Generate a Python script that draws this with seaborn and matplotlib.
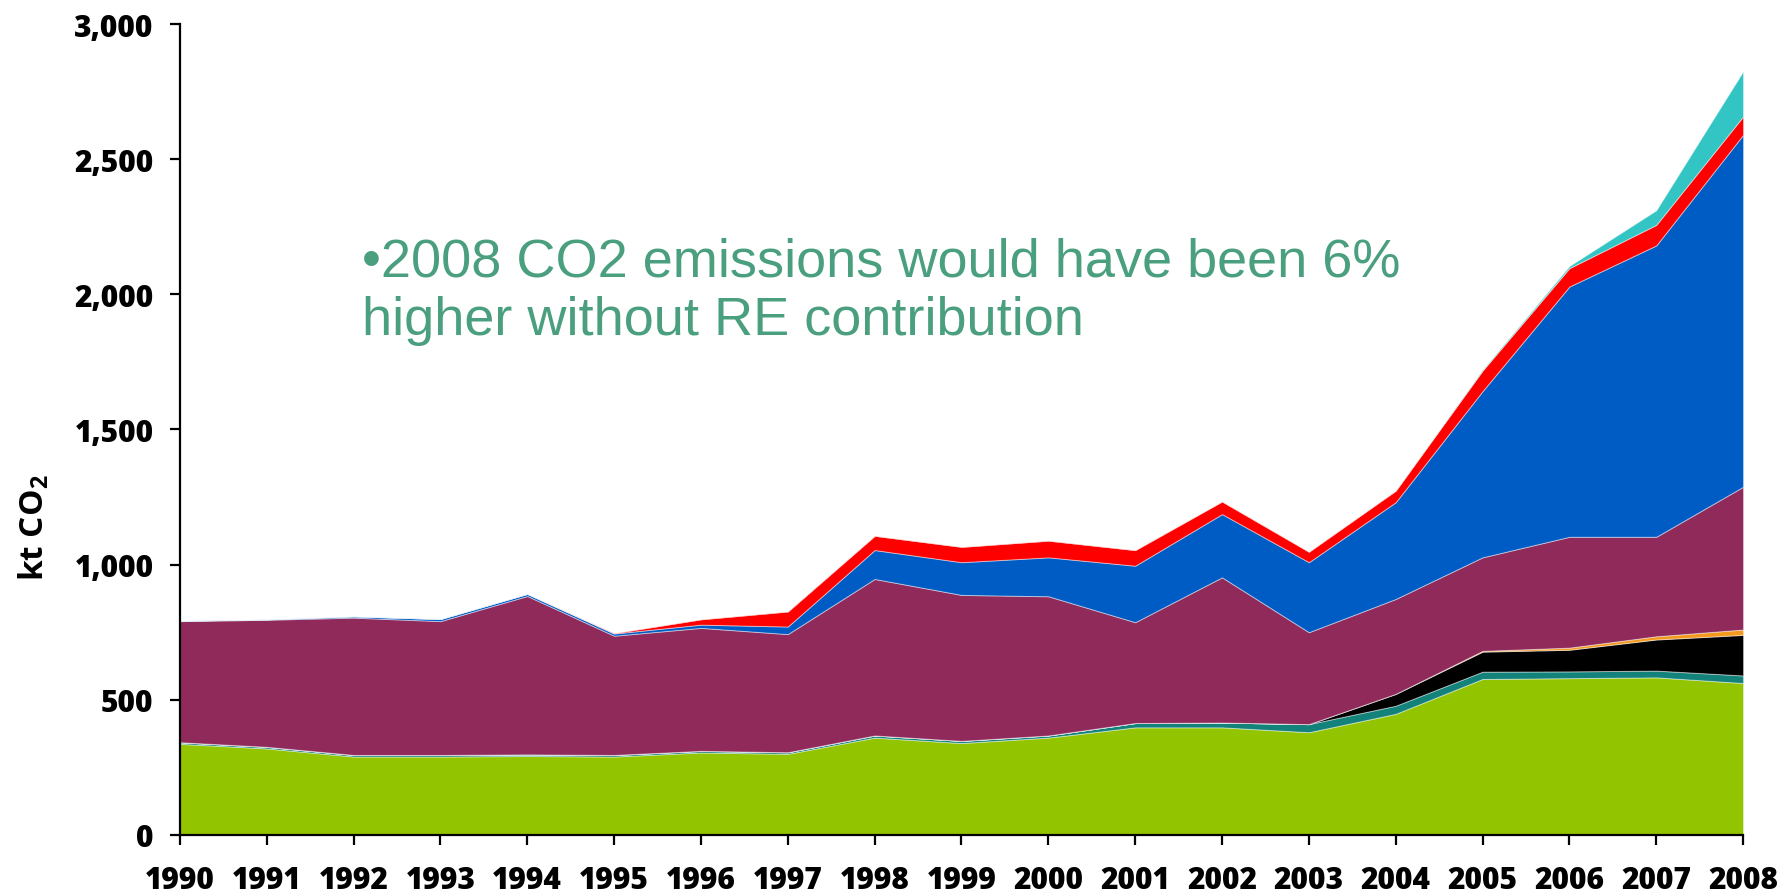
import matplotlib
matplotlib.use("Agg")
import matplotlib.pyplot as plt
import seaborn as sns
import numpy as np
from matplotlib.ticker import FuncFormatter, FixedLocator

years = list(range(1990, 2009))
green  = [337, 320, 290, 290, 292, 290, 305, 300, 360, 340, 360, 398, 398, 380, 448, 577, 580, 583, 562]
teal   = [6, 6, 6, 6, 6, 6, 6, 6, 8, 8, 8, 16, 18, 30, 30, 27, 25, 25, 28]
black  = [0, 0, 0, 0, 0, 0, 0, 0, 0, 0, 0, 0, 0, 0, 44, 74, 80, 115, 150]
orange = [0, 0, 0, 0, 0, 0, 0, 0, 0, 0, 0, 0, 0, 0, 0, 3, 8, 12, 20]
maroon = [448, 470, 508, 495, 586, 441, 455, 437, 579, 540, 515, 373, 537, 340, 351, 346, 410, 368, 528]
blue   = [2, 2, 5, 8, 8, 8, 12, 28, 107, 121, 144, 209, 234, 259, 358, 615, 926, 1078, 1302]
red    = [0, 0, 0, 0, 0, 2, 20, 56, 53, 57, 62, 58, 47, 39, 43, 76, 68, 76, 68]
cyan   = [0, 0, 0, 0, 0, 0, 0, 0, 0, 0, 0, 0, 0, 0, 0, 3, 8, 54, 167]

colors = ["#92C400", "#13827A", "#000000", "#F39A1E", "#8F2A5B", "#005CC5", "#FF0000", "#33C4C4"]
yticks = [0, 500, 1000, 1500, 2000, 2500, 3000]
note = "\u20222008 CO2 emissions would have been 6%\nhigher without RE contribution"

sns.set_theme(style="white")
plt.rcParams["font.family"] = ["Open Sans", "DejaVu Sans"]
plt.rcParams["mathtext.fontset"] = "custom"
plt.rcParams["mathtext.rm"] = "Open Sans"
plt.rcParams["mathtext.bf"] = "Open Sans:bold"

fig = plt.figure(figsize=(17.81, 8.95), dpi=100)
ax = fig.add_axes([0.101, 0.066, 0.8777, 0.906])

ax.stackplot(years, green, teal, black, orange, maroon, blue, red, cyan,
             colors=colors, edgecolor=(1, 1, 1, 0.45), linewidth=0.7)

ax.set_xlim(1990, 2008)
ax.set_ylim(0, 3000)
ax.xaxis.set_major_locator(FixedLocator(years))
ax.yaxis.set_major_locator(FixedLocator(yticks))
ax.yaxis.set_major_formatter(FuncFormatter(lambda v, p: f"{int(v):,}"))

sns.despine(ax=ax)
for s in ["left", "bottom"]:
    ax.spines[s].set_color("black")
    ax.spines[s].set_linewidth(1.6)

ax.tick_params(axis="both", which="major", direction="out", length=7, width=1.6,
               color="black", labelsize=21.5, labelcolor="black")
ax.tick_params(axis="x", pad=15)
ax.tick_params(axis="y", pad=12, left=True)
ax.tick_params(axis="x", bottom=True)
for lab in ax.get_xticklabels() + ax.get_yticklabels():
    lab.set_fontweight("heavy")

fig.text(0.019, 0.41, r"kt CO$_\mathbf{2}$", rotation=90, fontsize=24,
         fontweight="bold", ha="center", va="center", color="black")

fig.text(0.203, 0.735, note, fontsize=39, color="#4A9F7F", ha="left", va="top",
         family=["Liberation Sans", "DejaVu Sans"], linespacing=1.22)

fig.savefig("out.png", dpi=100)
